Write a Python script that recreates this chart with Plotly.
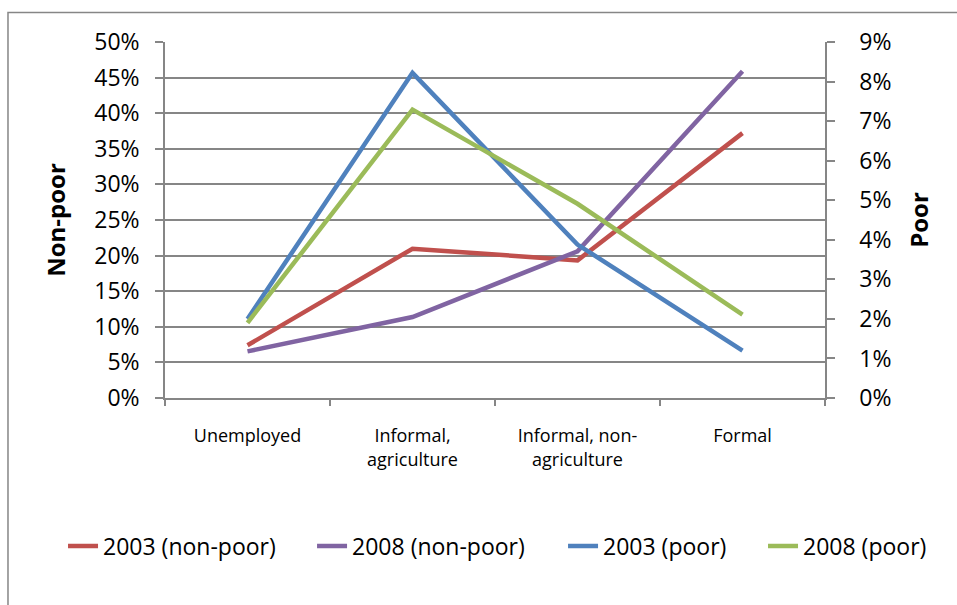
import plotly.graph_objects as go

categories = ["Unemployed", "Informal,<br>agriculture", "Informal, non-<br>agriculture", "Formal"]
nonpoor_2003 = [0.074, 0.2097, 0.1933, 0.372]
nonpoor_2008 = [0.0655, 0.1137, 0.206, 0.459]
poor_2003 = [0.020, 0.0822, 0.0388, 0.012]
poor_2008 = [0.019, 0.0729, 0.0491, 0.0211]

left_ticks = [i * 0.05 for i in range(11)]
right_ticks = [i * 0.01 for i in range(10)]

GRID = "#868686"
FONT = "Open Sans"
LEG_FONT = dict(size=23, family=FONT, color="black")

fig = go.Figure()
fig.add_trace(go.Scatter(x=categories, y=nonpoor_2003, name="2003 (non-poor)", mode="lines",
                         legend="legend", line=dict(color="#C0504D", width=4.5)))
fig.add_trace(go.Scatter(x=categories, y=nonpoor_2008, name="2008 (non-poor)", mode="lines",
                         legend="legend2", line=dict(color="#8064A2", width=4.5)))
fig.add_trace(go.Scatter(x=categories, y=poor_2003, name="2003 (poor)", mode="lines", yaxis="y2",
                         legend="legend3", line=dict(color="#4F81BD", width=4.5)))
fig.add_trace(go.Scatter(x=categories, y=poor_2008, name="2008 (poor)", mode="lines", yaxis="y2",
                         legend="legend4", line=dict(color="#9BBB59", width=4.5)))

leg_y = -0.416
def leg(x):
    return dict(orientation="h", x=x, xanchor="left", y=leg_y, yanchor="middle",
                font=LEG_FONT, bgcolor="rgba(0,0,0,0)")

fig.update_layout(
    width=957, height=605,
    margin=dict(l=165, r=132, t=42, b=207),
    paper_bgcolor="white", plot_bgcolor="white",
    font=dict(family=FONT, color="black"),
    showlegend=True,
    legend=leg(-0.1545),
    legend2=leg(0.2228),
    legend3=leg(0.6031),
    legend4=leg(0.9061),
    xaxis=dict(type="category", showline=True, linecolor=GRID, linewidth=1.5,
               ticks="outside", ticklen=6, tickcolor=GRID, tickwidth=1.5,
               tickson="boundaries", showgrid=False, ticklabelstandoff=21,
               tickfont=dict(size=18, family=FONT), range=[-0.5, 3.5]),
    yaxis=dict(range=[0, 0.5], tickvals=left_ticks, tickformat=".0%",
               showline=True, linecolor=GRID, linewidth=1.5,
               ticks="outside", ticklen=8, tickcolor=GRID, tickwidth=1.5,
               showgrid=True, gridcolor=GRID, gridwidth=1.5, zeroline=False,
               tickfont=dict(size=23, family=FONT), ticklabelstandoff=11,
               title=dict(text="<b>Non-poor</b>", font=dict(size=24, family=FONT), standoff=22)),
    yaxis2=dict(range=[0, 0.09], tickvals=right_ticks, tickformat=".0%",
                overlaying="y", side="right",
                showline=True, linecolor=GRID, linewidth=1.5,
                ticks="outside", ticklen=8, tickcolor=GRID, tickwidth=1.5,
                showgrid=False, zeroline=False,
                tickfont=dict(size=23, family=FONT), ticklabelstandoff=20,
                title=dict(text="<b>Poor</b>", font=dict(size=24, family=FONT), standoff=21)),
)

# outer chart frame (top and left edges visible)
fig.add_shape(type="path", xref="paper", yref="paper",
              path="M -0.2379 -0.65 L -0.2379 1.0828 L 1.25 1.0828",
              line=dict(color=GRID, width=1.5))

fig.write_html("out.html")
